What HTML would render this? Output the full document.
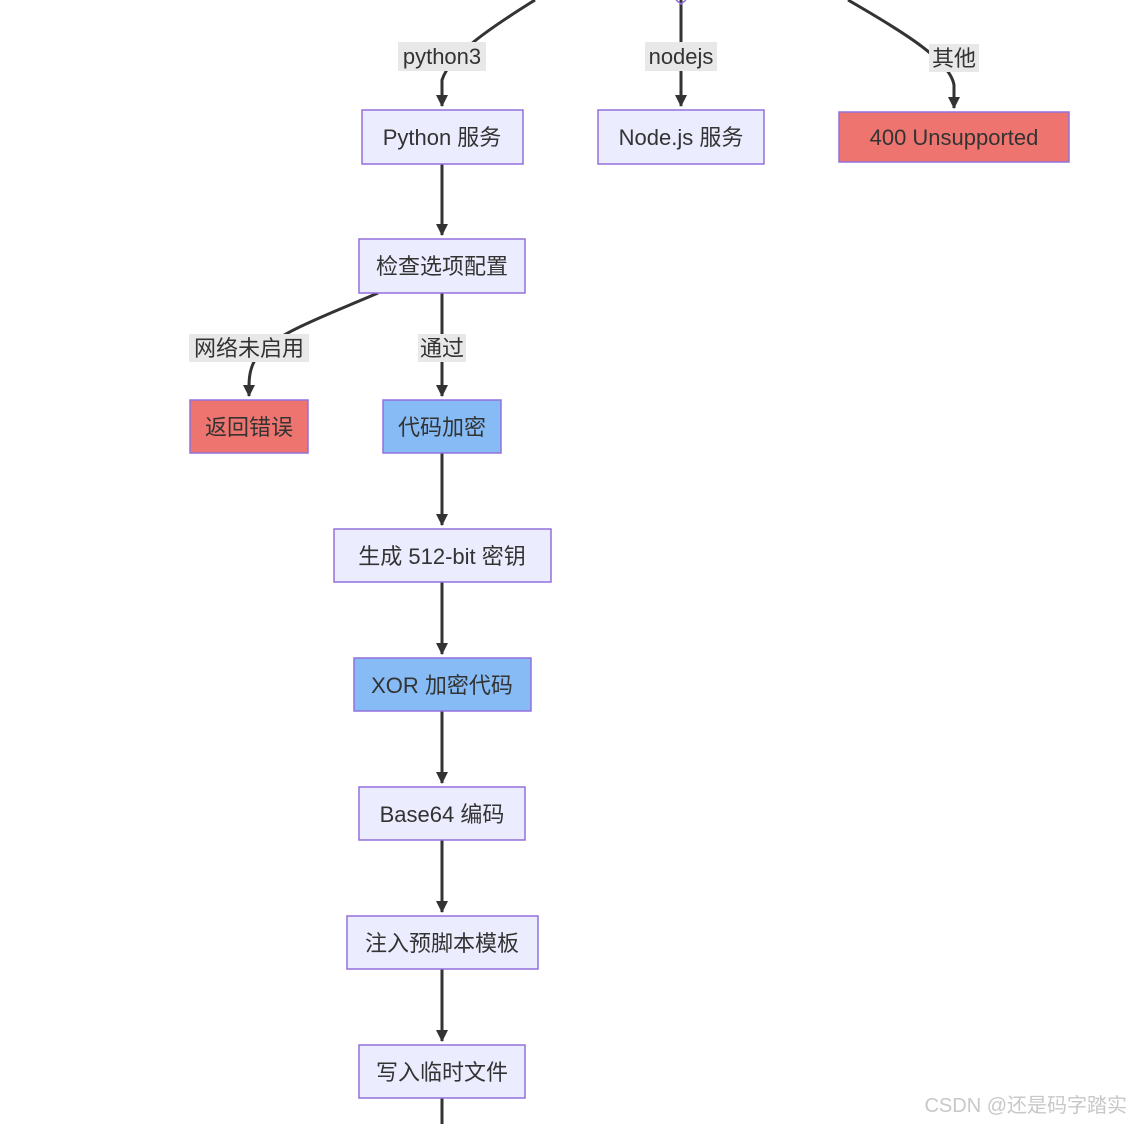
<!DOCTYPE html>
<html><head><meta charset="utf-8"><style>
html,body{margin:0;padding:0;background:#fff;}
svg{display:block;}
text{font-family:"Liberation Sans","Noto Sans CJK SC",sans-serif;font-size:22px;fill:#333;}
.n{fill:#ECECFF;stroke:#9370DB;stroke-width:1.5;}
.r{fill:#EE756F;stroke:#9370DB;stroke-width:1.5;}
.b{fill:#86BBF5;stroke:#9370DB;stroke-width:1.5;}
.e{stroke:#333;stroke-width:3;fill:none;}
.lb{fill:#e8e8e8;}
</style></head><body>
<svg width="1131" height="1124" viewBox="0 0 1131 1124">
<defs><marker id="a" viewBox="0 0 10 10" refX="9" refY="5" markerWidth="6" markerHeight="6" orient="auto-start-reverse" markerUnits="userSpaceOnUse"><path d="M0,0L10,5L0,10z" fill="#333"/></marker>
<marker id="m" viewBox="0 0 12 12" refX="11" refY="6" markerWidth="12" markerHeight="12" orient="auto" markerUnits="userSpaceOnUse"><path d="M0,0L12,6L0,12z" fill="#333"/></marker></defs>
<!-- edges -->
<path class="e" d="M535,0 C490,28 450,55 442,80 L442,106" marker-end="url(#m)"/>
<path class="e" d="M681,0 L681,106" marker-end="url(#m)"/>
<path d="M676,0 L681,4 L686,0" fill="none" stroke="#9370DB" stroke-width="1.5"/>
<path class="e" d="M848,0 C900,30 950,60 954,85 L954,108" marker-end="url(#m)"/>
<path class="e" d="M442,164 L442,235" marker-end="url(#m)"/>
<path class="e" d="M378,293 C320,318 270,335 255,360 C248,372 249,385 249,396" marker-end="url(#m)"/>
<path class="e" d="M442,293 L442,396" marker-end="url(#m)"/>
<path class="e" d="M442,453 L442,525" marker-end="url(#m)"/>
<path class="e" d="M442,582 L442,654" marker-end="url(#m)"/>
<path class="e" d="M442,711 L442,783" marker-end="url(#m)"/>
<path class="e" d="M442,840 L442,912" marker-end="url(#m)"/>
<path class="e" d="M442,969 L442,1041" marker-end="url(#m)"/>
<path class="e" d="M442,1098 L442,1124"/>
<!-- edge labels -->
<rect class="lb" x="398" y="42" width="88" height="29"/><text x="442" y="64" text-anchor="middle">python3</text>
<rect class="lb" x="645" y="42" width="72" height="29"/><text x="681" y="64" text-anchor="middle">nodejs</text>
<rect class="lb" x="929" y="44" width="50" height="28"/><text x="954" y="66" text-anchor="middle">其他</text>
<rect class="lb" x="189" y="334" width="120" height="28"/><text x="249" y="356" text-anchor="middle">网络未启用</text>
<rect class="lb" x="418" y="334" width="48" height="28"/><text x="442" y="356" text-anchor="middle">通过</text>
<!-- nodes -->
<rect class="n" x="362" y="110" width="161" height="54"/><text x="442" y="145" text-anchor="middle">Python 服务</text>
<rect class="n" x="598" y="110" width="166" height="54"/><text x="681" y="145" text-anchor="middle">Node.js 服务</text>
<rect class="r" x="839" y="112" width="230" height="50"/><text x="954" y="145" text-anchor="middle">400 Unsupported</text>
<rect class="n" x="359" y="239" width="166" height="54"/><text x="442" y="274" text-anchor="middle">检查选项配置</text>
<rect class="r" x="190" y="400" width="118" height="53"/><text x="249" y="435" text-anchor="middle">返回错误</text>
<rect class="b" x="383" y="400" width="118" height="53"/><text x="442" y="435" text-anchor="middle">代码加密</text>
<rect class="n" x="334" y="529" width="217" height="53"/><text x="442" y="564" text-anchor="middle">生成 512-bit 密钥</text>
<rect class="b" x="354" y="658" width="177" height="53"/><text x="442" y="693" text-anchor="middle">XOR 加密代码</text>
<rect class="n" x="359" y="787" width="166" height="53"/><text x="442" y="822" text-anchor="middle">Base64 编码</text>
<rect class="n" x="347" y="916" width="191" height="53"/><text x="442" y="951" text-anchor="middle">注入预脚本模板</text>
<rect class="n" x="359" y="1045" width="166" height="53"/><text x="442" y="1080" text-anchor="middle">写入临时文件</text>
<text x="1127" y="1112" text-anchor="end" style="font-size:20px;fill:#c8c8c8;">CSDN @还是码字踏实</text>
</svg>
</body></html>
